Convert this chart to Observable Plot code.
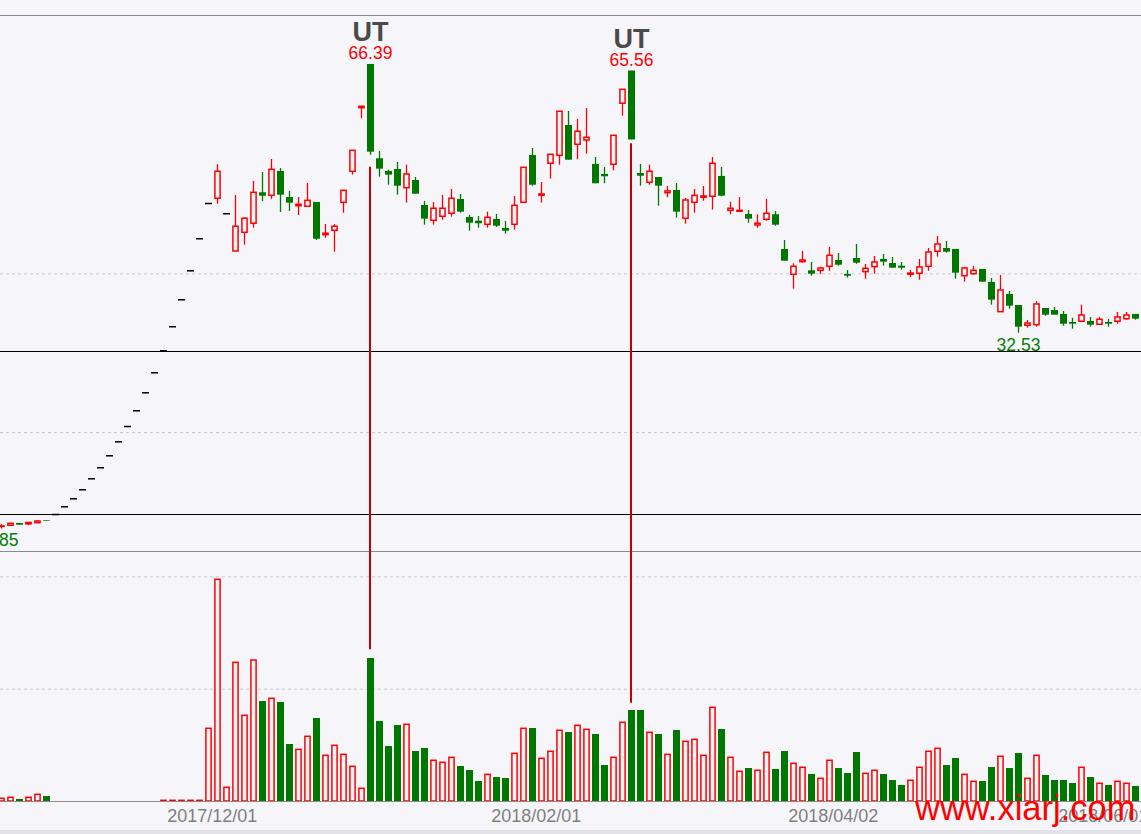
<!DOCTYPE html>
<html><head><meta charset="utf-8">
<script src="https://cdn.jsdelivr.net/npm/d3@7"></script>
<script src="https://cdn.jsdelivr.net/npm/@observablehq/plot@0.6"></script>
<style>
html,body{margin:0;padding:0;background:#f5f5fa;}
#wrap{position:relative;width:1141px;height:834px;overflow:hidden;background:#f5f5fa;}
#band{position:absolute;left:0;top:830px;width:1141px;height:4px;background:#e2e2e8;}
#wm{position:absolute;left:915px;top:791px;font-family:"Liberation Sans",Arial,sans-serif;font-size:34.5px;line-height:34.5px;color:#ff0000;white-space:nowrap;}
svg{display:block;}
</style></head><body><div id="wrap"><div id="band"></div></div>
<script>
// ---- data (one entry per trading day, left to right) ----
const openP = [8.12,8.26,8.55,8.44,8.59,8.88,9.68,10.65,11.66,12.80,14.18,15.57,17.08,18.84,20.77,22.75,25.02,27.54,30.31,33.34,36.74,40.39,44.43,48.87,
49.47,47.58,42.82,45.18,46.32,50.22,49.84,52.91,49.63,48.53,48.46,49.00,44.88,45.43,48.96,52.87,60.88,66.39,54.51,52.91,53.16,50.80,51.77,48.62,46.69,47.20,
47.58,49.38,47.11,46.64,46.19,46.86,45.72,46.19,48.96,54.92,49.84,53.88,54.88,58.70,56.27,56.81,53.79,52.53,53.75,61.44,65.56,52.65,51.48,52.15,50.17,50.51,
46.95,48.96,49.59,49.72,52.28,47.95,47.83,47.49,46.10,46.82,47.45,43.08,39.89,41.48,40.39,40.39,40.90,41.69,39.93,41.94,40.22,40.85,41.82,41.31,40.97,39.89,
40.02,40.90,42.79,43.20,43.08,39.71,39.96,40.56,38.92,35.18,37.41,36.02,33.46,33.54,35.64,35.39,34.89,33.88,33.97,34.00,33.59,33.88,33.97,34.29,34.89];
const highP = [8.40,8.51,8.55,8.64,8.93,8.90,9.68,10.65,11.66,12.80,14.18,15.57,17.08,18.84,20.77,22.75,25.02,27.54,30.31,33.34,36.74,40.39,44.43,48.87,
53.76,47.58,49.88,47.11,51.65,52.78,54.42,53.28,50.39,49.63,51.39,49.00,46.23,46.23,50.47,55.51,61.06,66.39,55.43,53.07,54.04,53.70,52.15,49.13,49.00,49.88,
50.64,50.01,47.36,47.24,47.78,47.49,46.61,49.76,53.37,55.80,51.52,55.01,60.43,60.47,59.46,60.84,54.67,53.41,57.40,63.20,65.56,53.79,53.70,52.15,51.02,51.39,
49.50,50.64,51.02,54.67,53.41,49.04,49.63,47.99,47.45,49.38,47.87,44.21,41.28,42.83,41.44,40.85,43.33,42.57,40.43,43.71,41.19,42.19,42.45,42.07,41.44,40.43,
41.82,43.20,44.72,44.09,43.08,40.81,40.93,40.56,39.42,39.80,37.78,36.02,34.13,36.52,35.64,35.77,35.26,34.42,36.06,34.51,34.51,34.26,35.14,35.14,34.89];
const lowP = [7.85,8.26,8.34,8.26,8.59,8.78,9.68,10.65,11.66,12.80,14.18,15.57,17.08,18.84,20.77,22.75,25.02,27.54,30.31,33.34,36.74,40.39,44.43,48.87,
48.79,47.58,42.82,43.62,45.76,49.13,49.38,47.74,47.87,47.36,48.46,44.21,44.50,42.74,47.65,52.44,59.55,54.95,52.19,51.18,49.92,48.91,50.05,46.14,46.14,46.77,
47.15,47.65,45.38,45.76,45.76,45.85,45.01,45.51,48.96,51.05,48.91,51.94,53.70,54.33,54.38,55.09,51.36,51.36,52.99,59.87,56.88,51.05,51.18,48.53,49.59,47.02,
46.27,47.65,49.16,48.03,49.72,47.45,47.83,46.39,45.76,46.64,46.01,41.60,38.07,41.35,39.71,39.93,40.34,40.97,39.46,41.22,39.33,39.96,40.97,40.72,40.47,39.51,
39.21,40.34,42.11,42.61,39.33,38.96,39.84,38.96,36.06,35.18,35.55,32.53,33.16,33.29,34.67,34.80,33.41,33.03,33.97,33.29,33.59,33.29,33.66,34.17,34.17];
const closeP = [8.18,8.51,8.34,8.62,8.80,8.80,9.68,10.65,11.66,12.80,14.18,15.57,17.08,18.84,20.77,22.75,25.02,27.54,30.31,33.34,36.74,40.39,44.43,48.87,
52.87,47.58,45.94,46.95,50.22,49.79,53.12,49.92,48.91,48.71,49.21,44.37,45.06,45.94,50.47,55.51,61.06,55.34,53.20,52.44,51.05,52.53,50.05,46.90,48.21,48.21,
49.47,47.78,46.39,46.32,47.07,46.01,45.38,48.58,53.37,51.18,50.01,55.01,60.43,54.33,57.91,57.15,51.36,52.24,57.40,63.20,56.88,52.31,52.87,51.05,50.39,47.78,
49.25,49.84,49.76,53.88,49.79,48.21,47.95,46.90,46.32,47.58,46.14,41.60,40.90,41.69,39.96,40.68,42.28,41.10,39.71,41.35,40.64,41.44,41.48,40.72,40.72,40.05,
40.81,42.70,43.71,42.74,40.09,40.68,40.39,38.96,36.69,37.91,35.93,33.29,33.75,36.15,34.80,34.80,33.66,33.66,34.76,33.54,34.22,33.66,34.51,34.76,34.29];
const volume = [0.48,0.66,0.36,0.66,1.19,0.89,0,0,0,0,0,0,0,0,0,0,0,0,0.12,0.12,0.12,0.12,0.12,12.94,
39.47,2.44,24.69,15.26,25.10,17.80,18.28,17.63,10.15,9.20,11.52,14.78,8.14,9.92,8.31,6.18,2.26,25.46,14.24,9.79,13.53,13.65,8.90,9.44,7.25,6.89,
7.78,6.23,5.52,3.56,4.75,4.27,4.09,8.49,12.94,13.00,7.60,8.85,12.59,12.28,13.48,12.76,11.93,6.41,7.78,14.01,16.20,16.20,12.23,11.93,8.31,12.64,
10.63,10.98,8.14,16.68,12.82,7.78,5.29,5.87,5.47,8.67,5.70,8.90,6.71,6.00,4.81,4.04,7.25,5.87,4.98,8.72,4.93,5.47,4.81,3.74,2.85,3.69,
6.00,8.85,9.38,6.41,7.66,4.75,3.51,3.56,6.05,7.96,5.87,8.55,4.04,8.14,4.63,3.74,3.74,3.20,6.00,4.27,3.15,2.85,3.51,3.15,2.67];

// x-axis tick labels (day index where each label starts)
const tickIndex = [18, 54, 87, 117];
const tickLabels = ["2017/12/01", "2018/02/01", "2018/04/02", "2018/06/01"];

// "UT" annotations: day index, marked high, start of the guide line (price), end of guide line (volume)
const utIndex = [41, 70];
const utHigh = [66.39, 65.56];
const utLineTop = [53.45, 56.40];
const utLineVolEnd = [27.0, 17.5];

// low labels
const lowIndex = [0, 113];
const lowValue = [7.85, 32.53];

// reference lines
const priceGrid = [20, 40];
const priceLines = [9.68, 30.22];
const volGrid = [20, 40];

// ---- layout / style ----
const W = 1141;
const RED = "#ff0000", GREEN = "#007800", BG = "#f5f5fa", UTRED = "#c40000";
const FONT = "Liberation Sans, Arial, sans-serif";
const xDomain = [-1/9, 1140/9];
const priceDomain = [5.02, 72.56];
const volDomain = [0, 44.51];

const candles = openP.map((o, i) => ({i, o, h: highP[i], l: lowP[i], c: closeP[i], v: volume[i]}));
const isDash = d => d.h === d.l;
const bodyUp = candles.filter(d => !isDash(d) && d.c > d.o);
const bodyDown = candles.filter(d => !isDash(d) && d.c < d.o);
const bodyFlat = candles.filter(d => !isDash(d) && d.c === d.o);
const dashes = candles.filter(isDash);
const wickUp = candles.filter(d => !isDash(d) && d.c >= d.o);
const wickDown = candles.filter(d => !isDash(d) && d.c < d.o);
const volUp = candles.filter(d => d.c >= d.o);
const volDown = candles.filter(d => d.c < d.o);
const ut = utIndex.map((i, k) => ({i, h: utHigh[k], top: utLineTop[k], ve: utLineVolEnd[k]}));
const lows = lowIndex.map((i, k) => ({i, v: lowValue[k]}));

const svgStyle = {background: "transparent", overflow: "hidden"};
const hx1 = d => d.i - 2.1 / 9, hx2 = d => d.i + 3.1 / 9;   // hollow body edges
const fx1 = d => d.i - 3 / 9, fx2 = d => d.i + 4 / 9;       // filled body edges

const price = Plot.plot({
  width: W, height: 551,
  marginTop: 15, marginBottom: 0, marginLeft: 0, marginRight: 0,
  x: {domain: xDomain, axis: null},
  y: {domain: priceDomain, axis: null},
  style: svgStyle,
  marks: [
    Plot.ruleY(priceGrid, {stroke: "#c6c6cc", strokeDasharray: "3,3"}),
    Plot.ruleY(priceLines, {stroke: "#000000"}),
    Plot.ruleY([priceDomain[1]], {stroke: "#8c8c8c"}),
    Plot.ruleX(wickUp, {x: "i", y1: "l", y2: "h", stroke: RED, strokeWidth: 1.3}),
    Plot.ruleX(wickDown, {x: "i", y1: "l", y2: "h", stroke: GREEN, strokeWidth: 1.3}),
    Plot.rect(bodyUp, {x1: hx1, x2: hx2, y1: "o", y2: "c", fill: BG, stroke: RED, strokeWidth: 1.5}),
    Plot.rect(bodyDown, {x1: fx1, x2: fx2, y1: "o", y2: "c", fill: GREEN}),
    Plot.ruleY(bodyFlat, {y: "c", x1: fx1, x2: fx2, stroke: RED, strokeWidth: 1.5}),
    Plot.ruleY(dashes, {y: "c", x1: fx1, x2: fx2, stroke: "#000000", strokeWidth: 1.5}),
    Plot.ruleX(ut, {x: "i", y1: "top", y2: () => priceDomain[0], stroke: UTRED, strokeWidth: 2, dx: -0.5}),
    Plot.text(ut, {x: "i", y: "h", text: d => d.h.toFixed(2), lineAnchor: "bottom", dy: -5.5, fill: RED, fontSize: 17.5, fontFamily: FONT}),
    Plot.text(ut, {x: "i", y: "h", text: () => "UT", lineAnchor: "bottom", dy: -23.5, fill: "#4a4a4a", fontSize: 27, fontWeight: "bold", fontFamily: FONT}),
    Plot.text(lows, {x: "i", y: "v", text: d => d.v.toFixed(2), lineAnchor: "top", dy: 5, fill: "#007f00", fontSize: 17.5, fontFamily: FONT})
  ]
});

const vol = Plot.plot({
  width: W, height: 283,
  marginTop: 0, marginBottom: 33, marginLeft: 0, marginRight: 0,
  x: {domain: xDomain, axis: null},
  y: {domain: volDomain, axis: null},
  style: svgStyle,
  marks: [
    Plot.ruleY(volGrid, {stroke: "#c6c6cc", strokeDasharray: "3,3"}),
    Plot.ruleY([volDomain[1]], {stroke: "#8c8c8c"}),
    Plot.rect(volUp, {x1: hx1, x2: hx2, y1: 0, y2: "v", fill: BG, stroke: RED, strokeWidth: 1.5}),
    Plot.rect(volDown, {x1: fx1, x2: fx2, y1: 0, y2: "v", fill: GREEN}),
    Plot.ruleY([0], {stroke: "#8c8c8c"}),
    Plot.ruleX(ut, {x: "i", y1: "ve", y2: () => volDomain[1], stroke: UTRED, strokeWidth: 2, dx: -0.5}),
    Plot.text(tickIndex, {x: d => d, text: (d, k) => tickLabels[k], frameAnchor: "bottom", textAnchor: "start", lineAnchor: "top", dx: 3.7, dy: 7.3, fill: "#808080", fontSize: 18, fontFamily: FONT})
  ]
});

const wrap = document.getElementById("wrap");
wrap.appendChild(price);
wrap.appendChild(vol);
const wm = document.createElement("div");
wm.id = "wm";
wm.textContent = "www.xiarj.com";
wrap.appendChild(wm);
</script>
</body></html>
